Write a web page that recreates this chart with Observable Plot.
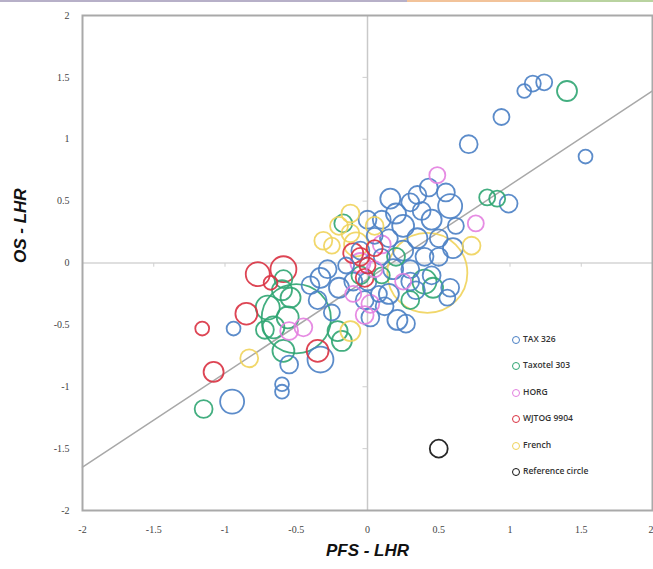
<!DOCTYPE html>
<html>
<head>
<meta charset="utf-8">
<script src="https://cdn.jsdelivr.net/npm/d3@7"></script>
<script src="https://cdn.jsdelivr.net/npm/@observablehq/plot@0.6"></script>
<style>
  html, body { margin: 0; padding: 0; background: #fff; }
  #wrap { position: relative; width: 653px; height: 569px; overflow: hidden; }
  #topbar { position: absolute; left: 0; top: 0; width: 653px; height: 2px;
    background: linear-gradient(to right, #b7b0c8 0, #b7b0c8 407px, #f2c39a 407px, #f2c39a 540px, #b9d3a0 540px); }
  #legend { position: absolute; left: 512px; top: 333px; font-family: "Open Sans", sans-serif;
    font-size: 8.5px; font-weight: 600; color: #333; }
  #legend .item { height: 26.4px; display: flex; align-items: flex-start; white-space: nowrap; }
  #legend .sw { width: 6px; height: 6px; border-radius: 50%; border: 1.3px solid; margin-right: 3px; margin-top: 3px; }
</style>
</head>
<body>
<div id="wrap"><div id="topbar"></div><div id="chart"></div><div id="legend"></div></div>
<script>
// ---- data: [PFS-LHR, OS-LHR, relative trial size] ----
const series = ["TAX 326", "Taxotel 303", "HORG", "WJTOG 9904", "French", "Reference circle"];
const seriesColors = ["#4a7fc4", "#2fa572", "#e37fe0", "#d93141", "#efd35a", "#111111"];

const tax326 = [
  [1.10, 1.39, 12], [1.16, 1.45, 16], [1.24, 1.46, 16], [0.94, 1.18, 16], [0.71, 0.96, 20], [1.53, 0.86, 12],
  [0.99, 0.48, 20], [0.58, 0.46, 36], [0.55, 0.57, 20], [0.43, 0.61, 20], [0.16, 0.52, 25], [0.30, 0.49, 20],
  [0.38, 0.42, 20], [0.20, 0.40, 25], [0.10, 0.35, 20], [0.25, 0.30, 30], [0.45, 0.35, 25], [0.60, 0.12, 25],
  [0.50, 0.20, 20], [0.35, 0.20, 25], [0.15, 0.20, 20], [0.05, 0.22, 16], [0.25, 0.10, 25], [0.40, 0.05, 20],
  [0.30, -0.05, 20], [0.18, -0.05, 25], [0.10, 0.05, 16], [0.58, -0.20, 20], [0.56, -0.28, 16], [0.34, -0.22, 20],
  [0.21, -0.46, 25], [0.27, -0.49, 20], [0.02, -0.44, 20], [-0.02, -0.30, 20], [0.08, -0.25, 16], [-0.10, -0.15, 20],
  [-0.20, -0.20, 25], [-0.33, -0.12, 25], [-0.28, -0.05, 20], [-0.15, -0.02, 16], [-0.33, -0.78, 42], [-0.94, -0.53, 12],
  [-0.95, -1.12, 36], [-0.60, -0.98, 12], [-0.60, -1.04, 12], [-0.55, -0.82, 20], [-0.05, 0.10, 20], [0.00, -0.15, 20],
  [0.15, -0.25, 25], [0.45, -0.10, 20], [-0.35, -0.30, 20], [-0.25, -0.40, 16], [0.35, 0.55, 20], [0.00, 0.35, 20],
  [-0.40, -0.18, 20], [0.50, 0.05, 20], [0.30, -0.15, 20], [0.12, -0.35, 20], [0.62, 0.30, 16]
];
const taxotel303 = [
  [1.40, 1.39, 25], [0.84, 0.53, 16], [0.91, 0.52, 16], [-1.15, -1.18, 20], [-0.70, -0.36, 36], [-0.66, -0.52, 30],
  [-0.54, -0.28, 25], [-0.56, -0.44, 30], [-0.59, -0.71, 30], [-0.50, -0.45, 300], [-0.59, -0.13, 20], [-0.60, -0.22, 25],
  [-0.21, -0.55, 25], [-0.18, -0.63, 25], [-0.17, 0.32, 20], [0.46, -0.20, 25], [0.30, -0.30, 20], [0.20, 0.05, 20],
  [-0.05, -0.10, 20], [0.10, -0.10, 16], [-0.72, -0.54, 20], [0.40, -0.15, 36]
];
const horg = [
  [0.49, 0.71, 16], [0.76, 0.32, 16], [0.02, -0.33, 20], [-0.55, -0.55, 20], [0.10, 0.15, 20], [-0.05, 0.00, 25],
  [0.05, -0.05, 16], [-0.10, -0.25, 16], [0.25, -0.15, 16], [-0.45, -0.52, 20], [-0.02, -0.42, 20]
];
const wjtog9904 = [
  [-0.77, -0.09, 36], [-0.59, -0.05, 42], [-0.68, -0.16, 12], [-0.85, -0.41, 30], [-1.16, -0.53, 12], [-1.08, -0.88, 25],
  [-0.35, -0.71, 30], [-0.05, 0.05, 20], [0.00, -0.02, 16], [-0.10, 0.08, 25], [0.05, 0.12, 16], [-0.02, -0.12, 20]
];
const french = [
  [0.73, 0.14, 20], [-0.83, -0.77, 20], [-0.12, 0.40, 20], [-0.31, 0.18, 20], [-0.25, 0.14, 16], [-0.12, 0.24, 20],
  [0.42, -0.08, 400], [-0.12, -0.55, 25], [0.05, 0.30, 20], [-0.20, 0.30, 20], [-0.08, 0.15, 36]
];
const referenceCircle = [[0.50, -1.50, 20]];

const trendX = [-2, 2];
const trendY = [-1.65, 1.39];
const xTicks = [-2, -1.5, -1, -0.5, 0, 0.5, 1, 1.5, 2];
const yTicks = [-2, -1.5, -1, -0.5, 0, 0.5, 1, 1.5, 2];

// ---- build table ----
const seriesData = [tax326, taxotel303, horg, wjtog9904, french, referenceCircle];
const points = seriesData.flatMap((arr, i) => arr.map(([x, y, n]) => ({x, y, n, series: series[i]})));
const trend = trendX.map((x, i) => ({x, y: trendY[i]}));
const fmt = d => String(d);
const xTicksInner = xTicks.slice(0, -1);
const xTickLast = xTicks.slice(-1);

const chart = Plot.plot({
  width: 653,
  height: 569,
  marginLeft: 82,
  marginRight: 1,
  marginTop: 15,
  marginBottom: 59,
  style: {fontFamily: "Liberation Serif, serif", fontSize: "10px", color: "#444", background: "#fff"},
  x: {domain: [-2, 2], label: null},
  y: {domain: [-2, 2], label: null},
  r: {type: "sqrt", domain: [0, 100], range: [0, 20]},
  color: {domain: series, range: seriesColors},
  marks: [
    Plot.ruleX([0], {stroke: "#c9c9c9", strokeWidth: 1.5}),
    Plot.ruleY([0], {stroke: "#d4d4d4", strokeWidth: 1.5}),
    Plot.link(xTicks, {x1: d => d, x2: d => d, y1: 0, y2: -0.03, stroke: "#cfcfcf"}),
    Plot.link(yTicks, {x1: 0, x2: -0.035, y1: d => d, y2: d => d, stroke: "#cfcfcf"}),
    Plot.line(trend, {x: "x", y: "y", stroke: "#a8a8a8", strokeWidth: 1.5}),
    Plot.dot(points, {x: "x", y: "y", r: "n", stroke: "series", fill: "none", strokeWidth: 1.8, strokeOpacity: 0.9}),
    Plot.frame({stroke: "#a9a9a9", strokeWidth: 2}),
    Plot.axisX({ticks: xTicksInner, tickFormat: fmt, tickSize: 0, tickPadding: 15, label: null}),
    Plot.axisX({ticks: xTickLast, tickFormat: fmt, tickSize: 0, tickPadding: 15, textAnchor: "end", dx: 1, label: null}),
    Plot.axisY({ticks: yTicks, tickFormat: fmt, tickSize: 0, tickPadding: 13, label: null}),
    Plot.text(["PFS - LHR"], {frameAnchor: "bottom", dy: 45, fontSize: 17, fontWeight: "bold", fontStyle: "italic",
      fontFamily: "Liberation Sans, Arial, sans-serif", fill: "#111"}),
    Plot.text(["OS - LHR"], {frameAnchor: "left", dx: -62, rotate: -90, fontSize: 17, fontWeight: "bold", fontStyle: "italic",
      fontFamily: "Liberation Sans, Arial, sans-serif", fill: "#111"})
  ]
});
document.getElementById("chart").appendChild(chart);

const legend = document.getElementById("legend");
series.forEach((s, i) => {
  const item = document.createElement("div");
  item.className = "item";
  const sw = document.createElement("span");
  sw.className = "sw";
  sw.style.borderColor = seriesColors[i];
  const t = document.createElement("span");
  t.textContent = s;
  item.appendChild(sw);
  item.appendChild(t);
  legend.appendChild(item);
});
</script>
</body>
</html>
